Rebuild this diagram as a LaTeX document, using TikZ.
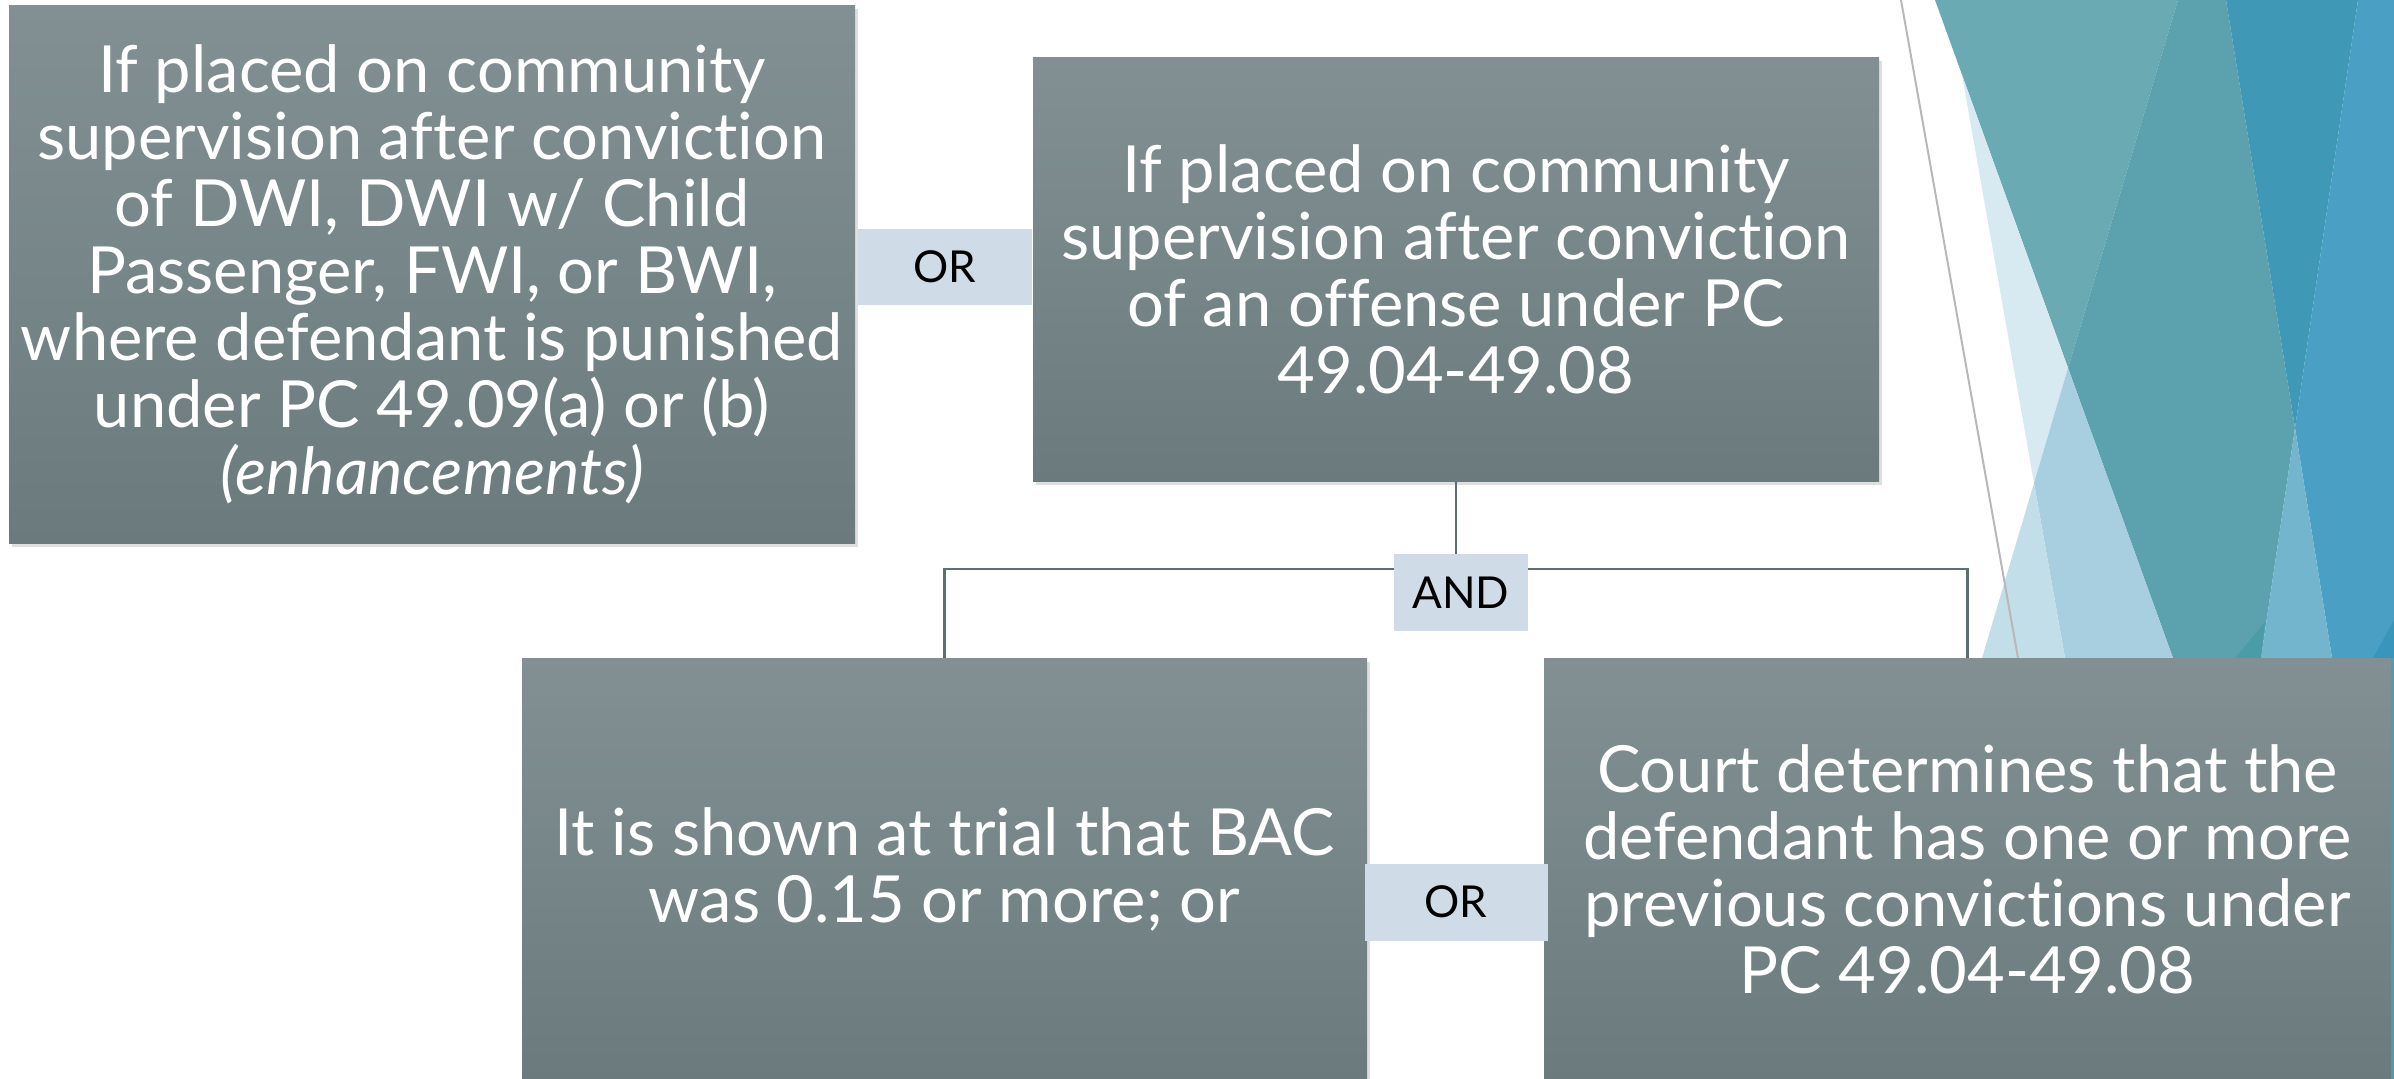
\documentclass[tikz,border=0pt]{standalone}
\usepackage{fontspec}
\setmainfont{Lato}[Ligatures=NoCommon]
\usetikzlibrary{shadows}
\definecolor{boxtop}{HTML}{829094}
\definecolor{boxbot}{HTML}{6B7B7D}
\definecolor{lblfill}{HTML}{CFDBE6}
\definecolor{linecol}{HTML}{5F6E70}
\definecolor{fpale}{HTML}{D7E9F1}
\definecolor{flb2}{HTML}{C2DEE8}
\definecolor{flb}{HTML}{A7CFDF}
\definecolor{ftl}{HTML}{69AAB3}
\definecolor{ft}{HTML}{5BA2AE}
\definecolor{fbd}{HTML}{3F98B5}
\definecolor{fb}{HTML}{49A0C4}
\definecolor{fbl}{HTML}{72B5CC}
\definecolor{fdt}{HTML}{4A9CA6}
\definecolor{fcorner}{HTML}{3A95BC}
\definecolor{gline}{HTML}{B8B8B8}
\begin{document}
\begin{tikzpicture}[x=1pt,y=-1pt,
  box/.style={rectangle, inner sep=0pt, text=white, align=center,
    font=\fontsize{65}{67}\selectfont, top color=boxtop, bottom color=boxbot,
    drop shadow={shadow xshift=3pt, shadow yshift=-4pt, opacity=0.25}},
  lbl/.style={rectangle, fill=lblfill, inner sep=0pt, text=black,
    font=\fontsize{44}{50}\selectfont},
  conn/.style={draw=linecol, line width=2.5pt}]
\useasboundingbox (0,0) rectangle (2394,1079);
% background facets
\fill[ftl] (1935,0) -- (2178,0) -- (2068,368) -- cycle;
\fill[ft] (2178,0) -- (2226,0) -- (2295,428) -- (2261,658) -- (2173,658) -- (2068,368) -- cycle;
\fill[fbd] (2226,0) -- (2358,0) -- (2295,428) -- cycle;
\fill[fb] (2358,0) -- (2394,0) -- (2394,1079) -- (2332,1079) -- (2332,658) -- (2295,428) -- cycle;
\fill[fbl] (2295,428) -- (2332,658) -- (2261,658) -- cycle;
\fill[fpale] (1962,75) -- (2068,368) -- (2034,483) -- cycle;
\fill[flb] (2068,368) -- (2034,483) -- (2065,658) -- (2173,658) -- cycle;
\fill[flb2] (2034,483) -- (1982,658) -- (2065,658) -- cycle;
\fill[fdt] (2235,658) -- (2265,622) -- (2261,658) -- cycle;
\fill[fcorner] (2373,658) -- (2394,620) -- (2394,658) -- cycle;
\draw[gline, line width=2pt] (1901,0) -- (2018,658);
% connector junction
\coordinate (j) at (1456,569);
% boxes
\node[box, minimum width=846pt, minimum height=538pt] (A) at (432,274)
  {If placed on community\\ supervision after conviction\\ of DWI, DWI w/ Child\\ Passenger, FWI, or BWI,\\ where defendant is punished\\ under PC 49.09(a) or (b)\\ \textit{(enhancements)}};
\node[box, minimum width=846pt, minimum height=424pt] (B) at (1456,269)
  {If placed on community\\ supervision after conviction\\ of an offense under PC\\ 49.04-49.08};
\draw[conn] (B.south) -- (j);
\draw[conn] (j) -| (944.5,658);
\draw[conn] (j) -| (1967.5,658);
\node[box, minimum width=845pt, minimum height=422pt] (C) at (944.5,869)
  {It is shown at trial that BAC\\ was 0.15 or more; or};
\node[box, minimum width=847pt, minimum height=422pt] (D) at (1967.5,869)
  {Court determines that the\\ defendant has one or more\\ previous convictions under\\ PC 49.04-49.08};
% labels
\node[lbl, minimum width=174pt, minimum height=76pt] (or1) at (945,267) {OR};
\node[lbl, minimum width=134pt, minimum height=77pt] (and) at (1461,592.5) {AND};
\node[lbl, minimum width=183pt, minimum height=77pt] (or2) at (1456,902) {OR};
\end{tikzpicture}
\end{document}
